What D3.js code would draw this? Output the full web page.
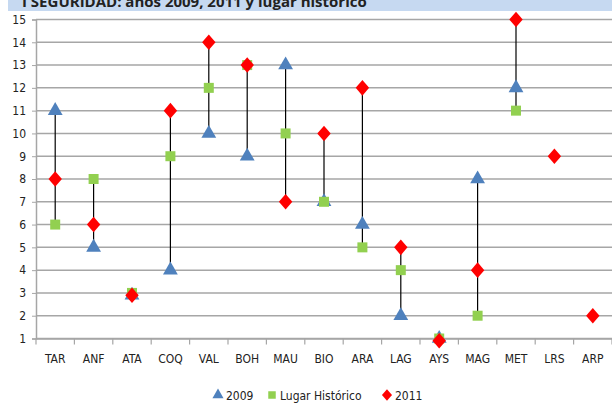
<!DOCTYPE html>
<html>
<head>
<meta charset="utf-8">
<script src="https://cdn.jsdelivr.net/npm/d3@7"></script>
<style>
body { margin:0; background:#fff; }
svg text { font-family: "Liberation Sans Narrow", "DejaVu Sans Condensed", sans-serif; fill:#222; }
</style>
</head>
<body>
<svg id="chart" width="612" height="404"></svg>
<script>
var regions = ['TAR','ANF','ATA','COQ','VAL','BOH','MAU','BIO','ARA','LAG','AYS','MAG','MET','LRS','ARP'];
var val2009 = [11, 5, 2.9, 4, 10, 9, 13, 7, 6, 2, 1, 8, 12, null, null];
var valHist = [6, 8, 3, 9, 12, 13, 10, 7, 5, 4, 1, 2, 11, null, null];
var val2011 = [8, 6, 2.9, 11, 14, 13, 7, 10, 12, 5, 0.9, 4, 15, 9, 2];
var yTicks = d3.range(1, 16);

var svg = d3.select("#chart");
var plotLeft = 36, plotRight = 612, plotTop = 19.5, plotBottom = 338.5;

//## title bar (cut at top of the picture)
svg.append("rect").attr("x", 8).attr("y", 0).attr("width", 604).attr("height", 11)
    .attr("fill", "#c6d9f1");
svg.append("text").attr("x", 22).attr("y", 7)
    .style("font-family", "'Open Sans', 'DejaVu Sans', sans-serif")
    .style("font-weight", "bold").style("font-size", "15px")
    .text("I SEGURIDAD: años 2009, 2011 y lugar histórico");

var x = d3.scaleBand().domain(regions).range([plotLeft, plotRight]);
var y = d3.scaleLinear().domain([1, 15]).range([plotBottom, plotTop]);

//## gridlines
svg.append("g").selectAll("line").data(yTicks).enter().append("line")
    .attr("x1", plotLeft).attr("x2", plotRight)
    .attr("y1", function(d) { return y(d); }).attr("y2", function(d) { return y(d); })
    .attr("stroke", "#a6a6a6").attr("stroke-width", 1.5);

//## y axis
var yAxis = svg.append("g").attr("transform", "translate(" + plotLeft + ",0)")
    .call(d3.axisLeft(y).tickValues(yTicks).tickSize(4).tickPadding(6).tickFormat(d3.format("d")));
yAxis.select(".domain").attr("stroke", "#a6a6a6").attr("stroke-width", 1.5);
yAxis.selectAll(".tick line").attr("stroke", "#a6a6a6");
yAxis.selectAll("text").style("font-size", "12px").attr("fill", "#222");

//## x axis
var xAxis = svg.append("g").attr("transform", "translate(0," + plotBottom + ")")
    .call(d3.axisBottom(x).tickSize(0).tickPadding(16));
xAxis.select(".domain").attr("stroke", "#a6a6a6").attr("stroke-width", 1.5);
xAxis.selectAll("text").style("font-size", "12px").attr("fill", "#222");
svg.append("g").selectAll("line").data(d3.range(regions.length + 1)).enter().append("line")
    .attr("x1", function(i) { return plotLeft + i * x.step(); })
    .attr("x2", function(i) { return plotLeft + i * x.step(); })
    .attr("y1", plotBottom).attr("y2", plotBottom + 6)
    .attr("stroke", "#a6a6a6").attr("stroke-width", 1.2);

function cx(i) { return x(regions[i]) + x.bandwidth() / 2; }

//## hi-lo lines
var ranges = regions.map(function(r, i) {
    var v = [val2009[i], valHist[i], val2011[i]].filter(function(d) { return d != null; });
    return { i: i, lo: d3.min(v), hi: d3.max(v) };
});
svg.append("g").selectAll("line").data(ranges).enter().append("line")
    .attr("x1", function(d) { return cx(d.i); }).attr("x2", function(d) { return cx(d.i); })
    .attr("y1", function(d) { return y(d.lo); }).attr("y2", function(d) { return y(d.hi); })
    .attr("stroke", "#000").attr("stroke-width", 1.2);

// excel style diamond, wider than d3's
var wideDiamond = {
    draw: function(ctx, size) {
        var h = Math.sqrt(size) / 2;
        ctx.moveTo(0, -h * 1.1);
        ctx.lineTo(h * 0.95, 0);
        ctx.lineTo(0, h * 1.1);
        ctx.lineTo(-h * 0.95, 0);
        ctx.closePath();
    }
};
var triangle = d3.symbol().type(d3.symbolTriangle).size(95);
var square = d3.symbol().type(d3.symbolSquare).size(100);
var diamond = d3.symbol().type(wideDiamond).size(200);

//## markers
function series(data, sym, color) {
    var g = svg.append("g");
    data.forEach(function(d, i) {
        if (d == null) return;
        g.append("path").attr("d", sym).attr("fill", color)
            .attr("transform", "translate(" + cx(i) + "," + y(d) + ")");
    });
}
series(val2009, triangle, "#4f81bd");
series(valHist, square, "#92d050");
series(val2011, diamond, "#ff0000");

//## legend
var legend = [
    { name: "2009", sym: triangle, col: "#4f81bd", x: 218 },
    { name: "Lugar Histórico", sym: square, col: "#92d050", x: 272 },
    { name: "2011", sym: diamond, col: "#ff0000", x: 387 }
];
var lg = svg.append("g").selectAll("g").data(legend).enter().append("g")
    .attr("transform", function(d) { return "translate(" + d.x + ",395)"; });
lg.append("path").attr("d", function(d) { return d.sym(); }).attr("fill", function(d) { return d.col; })
    .attr("transform", "scale(0.75)");
lg.append("text").attr("x", 8).attr("y", 4.5).style("font-size", "12px").text(function(d) { return d.name; });
</script>
</body>
</html>
